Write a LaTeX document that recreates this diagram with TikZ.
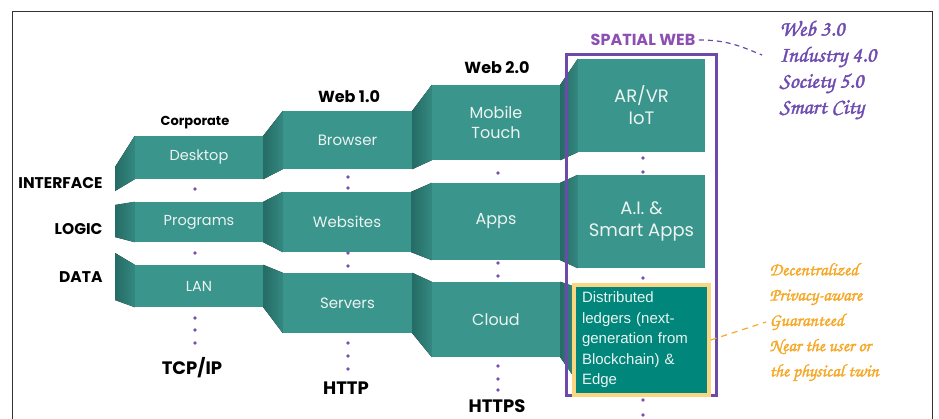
\documentclass[tikz,border=0pt]{standalone}
\usepackage{fontspec}
\setmainfont{Poppins}
\newfontfamily\arialfont{Liberation Sans}
\newfontfamily\handfont[FakeBold=1.6]{texgyrechorus-mediumitalic.otf}
\usetikzlibrary{calc}

\definecolor{tealfront}{RGB}{58,149,140}
\definecolor{sidedark}{RGB}{36,108,101}
\definecolor{sidelight}{RGB}{52,136,128}
\definecolor{facetext}{RGB}{236,244,242}
\definecolor{ledgerfill}{RGB}{0,134,122}
\definecolor{ledgerline}{RGB}{250,214,130}
\definecolor{spatialc}{RGB}{108,74,170}
\definecolor{spatialtxt}{RGB}{140,80,178}
\definecolor{dotc}{RGB}{118,80,180}
\definecolor{handpurple}{RGB}{110,76,176}
\definecolor{handorange}{RGB}{246,168,40}

\tikzset{
    front/.style={fill=tealfront, text=facetext, inner sep=0pt, align=center},
    side/.style={left color=sidedark, right color=sidelight},
    rowlabel/.style={anchor=east, font=\bfseries\fontsize{15.5}{17}\selectfont},
    colhead/.style={font=\bfseries\fontsize{16}{18}\selectfont},
    protocol/.style={font=\bfseries\fontsize{18}{20}\selectfont},
}

\begin{document}
\begin{tikzpicture}[x=1pt,y=-1pt]
                \useasboundingbox (0,0) rectangle (939,418);
                \draw[black!80, line width=0.8pt] (12,430) -- (12,11) -- (932,11) -- (932,430);
                % front faces: interface, logic, data
                \node[front, minimum width=128, minimum height=43, font=\fontsize{14.5}{18}\selectfont] (desk) at (199,157.5) {Desktop};
                \node[front, minimum width=129, minimum height=58, font=\fontsize{15}{19}\selectfont] (brow) at (347.5,140) {Browser};
                \node[front, minimum width=128, minimum height=75, font=\fontsize{16}{20}\selectfont] (mobi) at (496,122.5) {Mobile\\Touch};
                \node[front, minimum width=127, minimum height=93, font=\fontsize{18}{22}\selectfont] (arvr) at (641.5,105.5) {AR/VR\\IoT};
                \node[front, minimum width=128, minimum height=40, font=\fontsize{14.5}{18}\selectfont] (prog) at (199,222) {Programs};
                \node[front, minimum width=128, minimum height=60, font=\fontsize{15}{19}\selectfont] (webs) at (347,222) {Websites};
                \node[front, minimum width=128, minimum height=77, font=\fontsize{16}{20}\selectfont] (apps) at (496,221.5) {Apps};
                \node[front, minimum width=127, minimum height=93, font=\fontsize{18}{22}\selectfont] (smart) at (641.5,221.5) {A.I. \&\\Smart Apps};
                \node[front, minimum width=128, minimum height=42, font=\fontsize{14.5}{18}\selectfont] (lan) at (199,286) {LAN};
                \node[front, minimum width=129, minimum height=60, font=\fontsize{15}{19}\selectfont] (serv) at (347.5,303) {Servers};
                \node[front, minimum width=128, minimum height=75, font=\fontsize{16}{20}\selectfont] (clou) at (496,319.5) {Cloud};
                % side faces
                \foreach \n/\t/\b in {desk/167/191, prog/205/237, lan/253/300}
                    \fill[side] (115,\t) -- (\n.north west) -- (\n.south west) -- (115,\b) -- cycle;
                \foreach \a/\b in {desk/brow, brow/mobi, mobi/arvr, prog/webs, webs/apps, apps/smart, lan/serv, serv/clou}
                    \fill[side] (\a.north east) -- (\b.north west) -- (\b.south west) -- (\a.south east) -- cycle;
                \fill[side] (clou.north east) -- (576,287) -- (576,380) -- (clou.south east) -- cycle;
                % dots
                \foreach \x/\y in {195/189, 195/253, 195/318, 195/330, 195/343,
                                   348/177, 348/188, 348/253, 348/266, 348/343, 348/356, 348/369,
                                   498/173, 498/263, 498/276, 498/366, 498/379, 498/390,
                                   643/158, 643/172, 643/278, 643/400, 643/415}
                    \fill[dotc] (\x,\y) circle (1.8);
                \draw[spatialc, line width=3pt] (566,54) rectangle (716,395);
                \node[draw=ledgerline, line width=3.5pt, fill=ledgerfill, text=facetext, minimum width=135, minimum height=110,
                      inner sep=0pt, text width=119pt, align=left, font=\arialfont\fontsize{15}{20.5}\selectfont] (ledg) at (641.5,340)
                      {Distributed\\ledgers (next-\\generation from\\Blockchain) \&\\Edge};
                % labels
                \node[rowlabel] (iface) at (106,183) {INTERFACE};
                \node[rowlabel] (logic) at (106,229) {LOGIC};
                \node[rowlabel] (data) at (106,277) {DATA};
                \node[colhead, font=\bfseries\fontsize{13}{15}\selectfont] (corp) at (195,123) {Corporate};
                \node[colhead] (web1) at (349,97) {Web 1.0};
                \node[colhead] (web2) at (497,68) {Web 2.0};
                \node[protocol] (tcp) at (192,368) {TCP/IP};
                \node[protocol] (http) at (346,388) {HTTP};
                \node[protocol, inner sep=1pt] (https) at (497,406) {HTTPS};
                \node[text=spatialtxt, font=\bfseries\fontsize{16}{18}\selectfont] (spat) at (643,40) {SPATIAL WEB};
                \node[anchor=west, text=handpurple, align=left, font=\handfont\fontsize{22}{26}\selectfont] (visions) at (776,70)
                      {Web 3.0\\Industry 4.0\\Society 5.0\\Smart City};
                \node[anchor=west, text=handorange, align=left, font=\handfont\fontsize{18}{25.3}\selectfont] (traits) at (766,322)
                      {Decentralized\\Privacy-aware\\Guaranteed\\Near the user or\\the physical twin};
                \coordinate (visend) at (762,55);
                \draw[spatialc, line width=1.2pt, dash pattern=on 5pt off 4pt] (spat.east) .. controls +(30,0) and +(-20,-8) .. (visend);
                \draw[handorange, line width=1.2pt, dash pattern=on 6pt off 5pt] (ledg.east) -- (traits.west);
            \end{tikzpicture}
\end{document}
